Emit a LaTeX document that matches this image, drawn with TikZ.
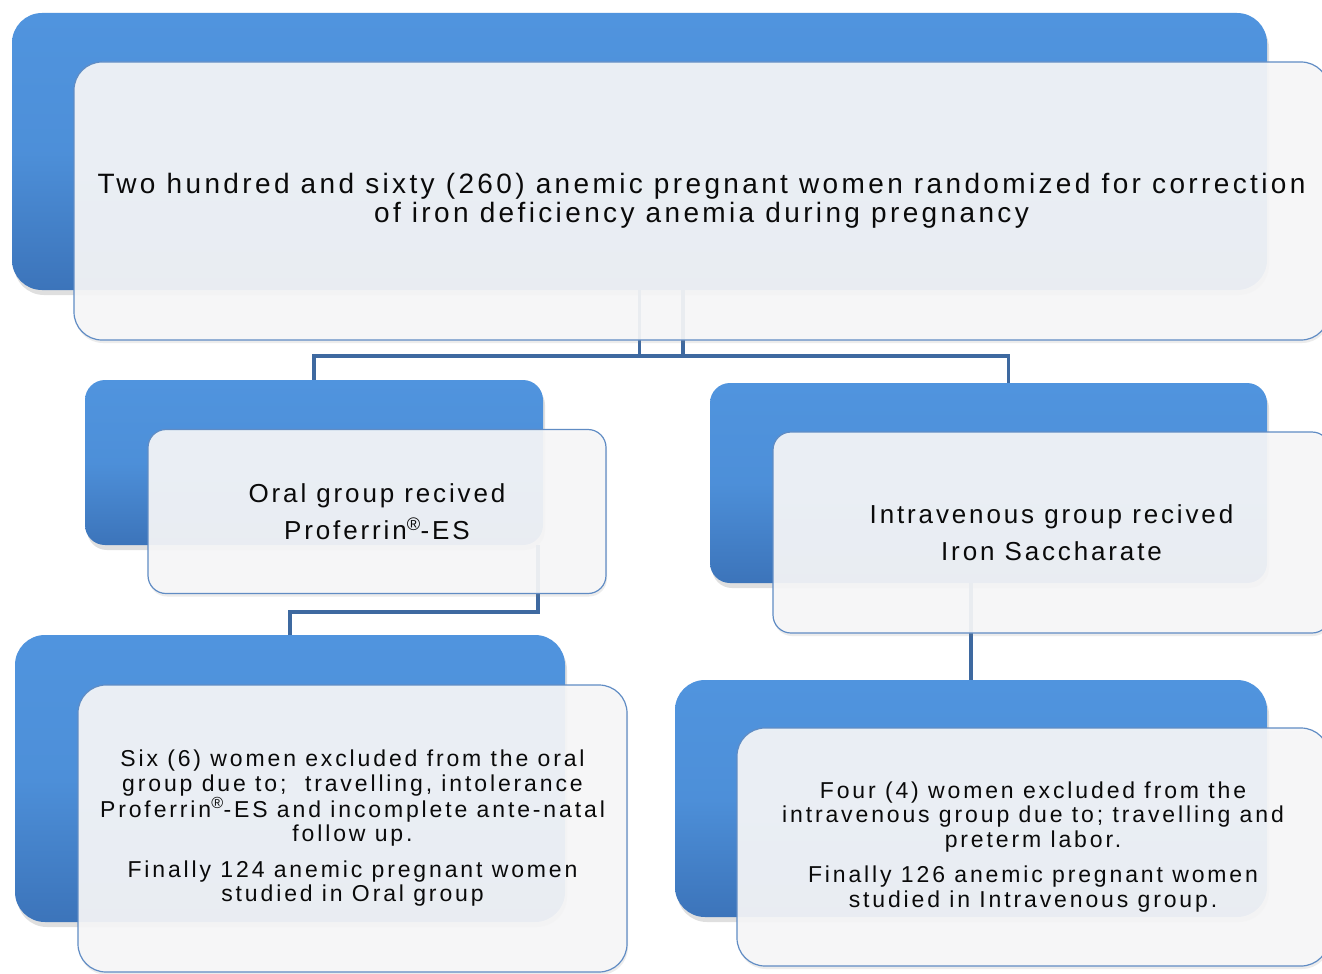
\documentclass[tikz,border=0pt]{standalone}
\usepackage{fontspec}
\setmainfont{Liberation Sans}[LetterSpace=10]
\usetikzlibrary{shadows}
\definecolor{bluetop}{RGB}{80,148,222}
\definecolor{bluebot}{RGB}{60,116,186}
\definecolor{wfill}{RGB}{247,247,248}
\definecolor{wline}{RGB}{96,140,196}
\definecolor{conn}{RGB}{62,105,160}
\definecolor{txt}{RGB}{10,10,10}
\begin{document}
\begin{tikzpicture}[x=1pt,y=-1pt,
  bluebox/.style={draw=none, top color=bluetop, bottom color=bluebot, middle color=bluetop!85!bluebot, inner sep=0pt, outer sep=0pt,
    drop shadow={shadow xshift=2pt, shadow yshift=-5pt, opacity=0.25}},
  whitebox/.style={draw=wline, line width=1.2pt, fill=wfill, fill opacity=0.92, text opacity=1,
    inner sep=0pt, outer sep=0pt, align=center, text=txt,
    drop shadow={shadow xshift=1pt, shadow yshift=-3pt, opacity=0.15}},
  connector/.style={draw=conn, line width=3.5pt},
  bigtext/.style={font=\fontsize{28}{29}\selectfont\addfontfeature{LetterSpace=12}},
  midtext/.style={font=\fontsize{26}{37}\selectfont\addfontfeature{LetterSpace=11}},
  smalltext/.style={font=\fontsize{23}{24.5}\selectfont\addfontfeature{LetterSpace=12.5}}
]
\useasboundingbox (0,0) rectangle (1322,974);
\clip (0,0) rectangle (1322,974);
\fill[white] (0,0) rectangle (1322,974);

% blue back boxes
\node[bluebox, rounded corners=30pt, minimum width=1255pt, minimum height=277pt] (top0) at (639.5,151.5) {};
\node[bluebox, rounded corners=20pt, minimum width=458pt, minimum height=165pt] (oral0) at (314,462.5) {};
\node[bluebox, rounded corners=20pt, minimum width=557pt, minimum height=200pt] (iv0) at (988.5,483) {};
\node[bluebox, rounded corners=30pt, minimum width=550pt, minimum height=287pt] (ex0) at (290,778.5) {};
\node[bluebox, rounded corners=30pt, minimum width=592pt, minimum height=237pt] (ivx0) at (971,798.5) {};

% connectors
\draw[connector] (top0.south) -- ++(0,66) -| ([xshift=20pt]iv0.north);
\draw[connector] ([xshift=43.5pt]top0.south) -- ++(0,66) -| (oral0.north);
\draw[connector] ([xshift=-5pt]oral0.south east) -- ++(0,67) -| (ex0.north);
\draw[connector] (iv0.south -| ivx0.north) -- (ivx0.north);

% white front boxes
\node[whitebox, bigtext, rounded corners=28pt, minimum width=1255pt, minimum height=278pt] (top1) at (701.5,201)
  {Two hundred and sixty (260) anemic pregnant women randomized for correction\\of iron deficiency anemia during pregnancy};
\node[whitebox, midtext, rounded corners=18pt, minimum width=458pt, minimum height=164pt] (oral1) at (377,511.5)
  {Oral group recived\\Proferrin\textsuperscript{®}-ES};
\node[whitebox, midtext, rounded corners=18pt, minimum width=557pt, minimum height=201pt] (iv1) at (1051.5,532.5)
  {Intravenous group recived\\Iron Saccharate};
\node[whitebox, smalltext, rounded corners=28pt, minimum width=549pt, minimum height=287pt] (ex1) at (352.5,828.5)
  {Six (6) women excluded from the oral\\group due to;\ \ travelling, intolerance\\Proferrin\textsuperscript{®}-ES and incomplete ante-natal\\follow up.\\[11pt]Finally 124 anemic pregnant women\\studied in Oral group};
\node[whitebox, smalltext, rounded corners=28pt, minimum width=592pt, minimum height=238pt] (ivx1) at (1033,847)
  {Four (4) women excluded from the\\intravenous group due to; travelling and\\preterm labor.\\[11pt]Finally 126 anemic pregnant women\\studied in Intravenous group.};
\end{tikzpicture}
\end{document}
